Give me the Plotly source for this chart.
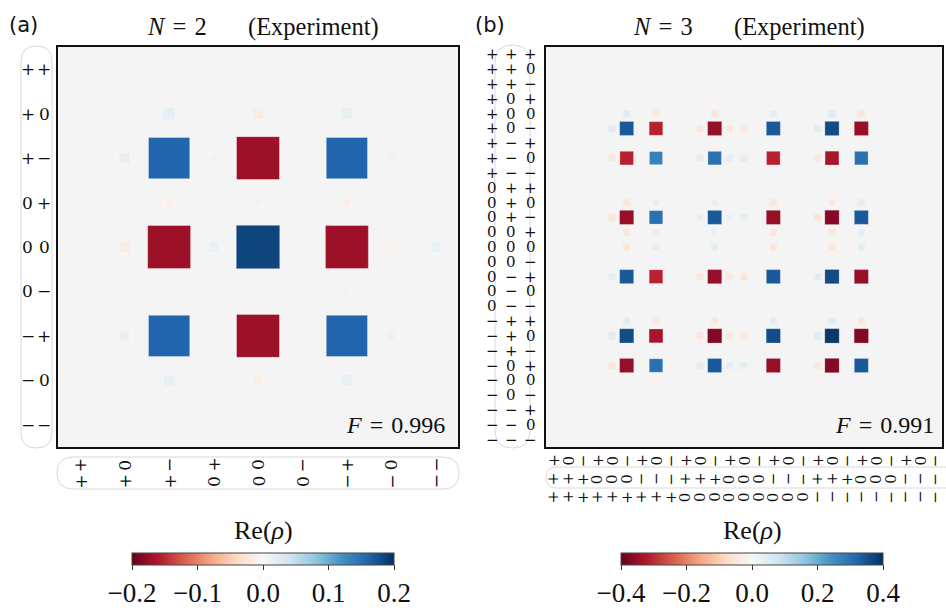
import plotly.graph_objects as go

W, H = 946, 612

# ---------------- data ----------------
labels2 = ["+ +", "+ 0", "+ −", "0 +", "0 0", "0 −", "− +", "− 0", "− −"]
labels3 = ["+ + +", "+ + 0", "+ + −", "+ 0 +", "+ 0 0", "+ 0 −", "+ − +", "+ − 0", "+ − −",
           "0 + +", "0 + 0", "0 + −", "0 0 +", "0 0 0", "0 0 −", "0 − +", "0 − 0", "0 − −",
           "− + +", "− + 0", "− + −", "− 0 +", "− 0 0", "− 0 −", "− − +", "− − 0", "− − −"]

# Re(rho) for N = 2 (rows: ++ ... --, columns: ++ ... --)
rho2 = [
    [0, 0, -.008, 0, .006, 0, -.008, 0, 0],
    [0, 0, .018, 0, -.016, 0, .016, 0, 0],
    [-.006, .016, .160, -.010, -.172, -.005, .160, .012, -.006],
    [0, 0, -.010, 0, .010, 0, -.010, 0, 0],
    [.004, -.016, -.172, .014, .185, .004, -.172, -.010, .014],
    [0, 0, -.008, 0, .006, 0, -.008, 0, 0],
    [-.006, .014, .160, -.010, -.172, -.005, .160, .012, -.006],
    [0, 0, .016, 0, -.012, 0, .016, 0, 0],
    [0, 0, -.008, 0, .008, 0, 0, 0, 0],
]

# Re(rho) for N = 3
rho3 = [
    [0, 0, 0, 0, 0, 0, 0, 0, 0, 0, 0, 0, 0, 0, 0, 0, 0, 0, 0, 0, 0, 0, 0, 0, 0, 0, 0],
    [0, 0, 0, 0, 0, 0, 0, 0, 0, 0, 0, 0, 0, 0, 0, 0, 0, 0, 0, 0, 0, 0, 0, 0, 0, 0, 0],
    [0, 0, 0, 0, 0, .008, 0, -.008, 0, 0, 0, -.008, 0, 0, 0, .008, 0, 0, 0, .008, 0, -.008, 0, 0, 0, 0, 0],
    [0, 0, 0, 0, 0, .018, 0, -.018, 0, 0, 0, -.018, 0, 0, 0, .018, 0, 0, 0, .018, 0, -.018, 0, 0, 0, 0, 0],
    [0, 0, 0, 0, 0, .045, 0, -.042, 0, 0, 0, -.045, 0, 0, 0, .040, 0, 0, 0, .048, 0, -.045, 0, 0, 0, 0, 0],
    [0, 0, .008, .018, .045, .34, .015, -.31, .015, -.015, -.042, -.35, -.042, -.045, -.008, .34, -.012, -.006, .045, .36, -.015, -.35, .015, .007, .005, .005, 0],
    [0, 0, 0, 0, 0, .015, 0, -.015, 0, 0, 0, -.015, 0, 0, 0, .015, 0, 0, 0, .015, 0, -.015, 0, 0, 0, 0, 0],
    [0, 0, -.008, -.018, -.042, -.31, -.015, .27, -.015, .015, .040, .30, .040, .042, .008, -.31, .012, .006, -.042, -.33, .015, .30, -.015, -.007, -.005, -.005, 0],
    [0, 0, 0, 0, 0, .015, 0, -.015, 0, 0, 0, -.015, 0, 0, 0, .015, 0, 0, 0, .015, 0, -.015, 0, 0, 0, 0, 0],
    [0, 0, 0, 0, 0, -.015, 0, .015, 0, 0, 0, .015, 0, 0, 0, -.015, 0, 0, 0, -.015, 0, .015, 0, 0, 0, 0, 0],
    [0, 0, 0, 0, 0, -.042, 0, .040, 0, 0, 0, .034, 0, 0, 0, -.042, 0, 0, 0, -.042, 0, .040, 0, 0, 0, 0, 0],
    [0, 0, -.008, -.018, -.045, -.35, -.015, .30, -.015, .015, .034, .34, .030, .042, .008, -.35, .012, .006, -.045, -.37, .015, .34, -.015, -.007, -.005, -.005, 0],
    [0, 0, 0, 0, 0, -.042, 0, .040, 0, 0, 0, .030, 0, 0, 0, -.042, 0, 0, 0, -.042, 0, .040, 0, 0, 0, 0, 0],
    [0, 0, 0, 0, 0, -.045, 0, .042, 0, 0, 0, .042, 0, 0, 0, -.045, 0, 0, 0, -.045, 0, .042, 0, 0, 0, 0, 0],
    [0, 0, 0, 0, 0, -.008, 0, .008, 0, 0, 0, .008, 0, 0, 0, -.008, 0, 0, 0, -.008, 0, .008, 0, 0, 0, 0, 0],
    [0, 0, .008, .018, .040, .34, .015, -.31, .015, -.015, -.042, -.35, -.042, -.045, -.008, .34, -.012, -.006, .042, .36, -.015, -.35, .015, .007, .005, .005, 0],
    [0, 0, 0, 0, 0, -.012, 0, .012, 0, 0, 0, .012, 0, 0, 0, -.012, 0, 0, 0, -.012, 0, .012, 0, 0, 0, 0, 0],
    [0, 0, 0, 0, 0, -.006, 0, .006, 0, 0, 0, .006, 0, 0, 0, -.006, 0, 0, 0, -.006, 0, .006, 0, 0, 0, 0, 0],
    [0, 0, 0, 0, 0, .045, 0, -.042, 0, 0, 0, -.045, 0, 0, 0, .042, 0, 0, 0, .050, 0, -.045, 0, 0, 0, 0, 0],
    [0, 0, .008, .018, .048, .36, .015, -.33, .015, -.015, -.042, -.37, -.042, -.045, -.008, .36, -.012, -.006, .050, .39, -.015, -.37, .015, .007, .005, .005, 0],
    [0, 0, 0, 0, 0, -.015, 0, .015, 0, 0, 0, .015, 0, 0, 0, -.015, 0, 0, 0, -.015, 0, .015, 0, 0, 0, 0, 0],
    [0, 0, -.008, -.018, -.045, -.35, -.015, .30, -.015, .015, .040, .34, .040, .042, .008, -.35, .012, .006, -.045, -.37, .015, .34, -.015, -.007, -.005, -.005, 0],
    [0, 0, 0, 0, 0, .015, 0, -.015, 0, 0, 0, -.015, 0, 0, 0, .015, 0, 0, 0, .015, 0, -.015, 0, 0, 0, 0, 0],
    [0, 0, 0, 0, 0, .007, 0, -.007, 0, 0, 0, -.007, 0, 0, 0, .007, 0, 0, 0, .007, 0, -.007, 0, 0, 0, 0, 0],
    [0, 0, 0, 0, 0, .005, 0, -.005, 0, 0, 0, -.005, 0, 0, 0, .005, 0, 0, 0, .005, 0, -.005, 0, 0, 0, 0, 0],
    [0, 0, 0, 0, 0, .005, 0, -.005, 0, 0, 0, -.005, 0, 0, 0, .005, 0, 0, 0, .005, 0, -.005, 0, 0, 0, 0, 0],
    [0, 0, 0, 0, 0, 0, 0, 0, 0, 0, 0, 0, 0, 0, 0, 0, 0, 0, 0, 0, 0, 0, 0, 0, 0, 0, 0],
]

fidelity2 = "0.996"
fidelity3 = "0.991"
cbar2_vals = [-0.2, -0.1, 0.0, 0.1, 0.2]
cbar2_text = ["−0.2", "−0.1", "0.0", "0.1", "0.2"]
cbar3_vals = [-0.4, -0.2, 0.0, 0.2, 0.4]
cbar3_text = ["−0.4", "−0.2", "0.0", "0.2", "0.4"]
vmax2, vmax3 = 0.2, 0.4

# ---------------- style ----------------
RDBU = [[0.0, "#67001f"], [0.1, "#b2182b"], [0.2, "#d6604d"], [0.3, "#f4a582"],
        [0.4, "#fddbc7"], [0.5, "#f7f7f7"], [0.6, "#d1e5f0"], [0.7, "#92c5de"],
        [0.8, "#4393c3"], [0.9, "#2166ac"], [1.0, "#053061"]]
SERIF = "Liberation Serif"
MATH = "DejaVu Serif"
SANS = "DejaVu Sans"
INK = "#111"
SP = "\u2004"   # medium math-like space

A_box = (58, 47, 458, 447)     # pixel box of panel (a)
B_box = (546, 47, 942, 447)    # pixel box of panel (b)


def px(x):
    return x / W


def py(y):
    return 1 - y / H


def points(mat, vmax, cell, expo, gain, cap):
    xs, ys, cs, ss = [], [], [], []
    for i, row in enumerate(mat):
        for j, v in enumerate(row):
            if v == 0:
                continue
            xs.append(j)
            ys.append(i)
            cs.append(v)
            ss.append(min(cap, gain * (abs(v) / vmax) ** expo) * cell)
    return xs, ys, cs, ss


fig = go.Figure()

xa, ya, ca, sa = points(rho2, vmax2, (A_box[2] - A_box[0]) / 9, 0.55, 1.05, 0.98)
fig.add_trace(go.Scatter(
    x=xa, y=ya, mode="markers", xaxis="x", yaxis="y", hoverinfo="skip",
    marker=dict(symbol="square", size=sa, color=ca, coloraxis="coloraxis", opacity=1,
                line=dict(width=1, color="rgba(255,255,255,0.35)")),
    showlegend=False))

xb, yb, cb, sb = points(rho3, vmax3, (B_box[2] - B_box[0]) / 27, 0.3, 1.0, 0.98)
fig.add_trace(go.Scatter(
    x=xb, y=yb, mode="markers", xaxis="x2", yaxis="y2", hoverinfo="skip",
    marker=dict(symbol="square", size=sb, color=cb, coloraxis="coloraxis2", opacity=1,
                line=dict(width=0.6, color="rgba(255,255,255,0.35)")),
    showlegend=False))


def axis_common(domain, n, reverse):
    d = dict(domain=domain, showticklabels=False, ticks="", showgrid=False, zeroline=False,
             showline=True, mirror=True, linecolor=INK, linewidth=2, fixedrange=True)
    d["range"] = [n - 0.5, -0.5] if reverse else [-0.5, n - 0.5]
    return d


def cbar(xc, vals, text):
    return dict(orientation="h", x=px(xc), xanchor="center", y=py(553), yanchor="top",
                len=262 / W, lenmode="fraction", thickness=12, xpad=0, ypad=0,
                outlinewidth=1, outlinecolor="#444", ticks="outside", ticklen=5, tickcolor="#333",
                tickmode="array", tickvals=vals, ticktext=text,
                tickfont=dict(family=SERIF, size=27, color=INK))


fig.update_layout(
    width=W, height=H, margin=dict(l=0, r=0, t=0, b=0),
    paper_bgcolor="white", plot_bgcolor="#f4f4f4",
    font=dict(family=SERIF, color=INK),
    xaxis=axis_common([px(A_box[0]), px(A_box[2])], 9, False),
    yaxis=axis_common([py(A_box[3]), py(A_box[1])], 9, True),
    xaxis2=dict(axis_common([px(B_box[0]), px(B_box[2])], 27, False), anchor="y2"),
    yaxis2=dict(axis_common([py(B_box[3]), py(B_box[1])], 27, True), anchor="x2"),
    coloraxis=dict(cmin=-vmax2, cmax=vmax2, colorscale=RDBU, colorbar=cbar(263, cbar2_vals, cbar2_text)),
    coloraxis2=dict(cmin=-vmax3, cmax=vmax3, colorscale=RDBU, colorbar=cbar(752, cbar3_vals, cbar3_text)),
)


def ann(x, y, text, size, family=SERIF, xanchor="center", xref="paper", yref="paper", angle=0):
    fig.add_annotation(x=px(x) if xref == "paper" else x, y=py(y) if yref == "paper" else y,
                       xref=xref, yref=yref, text=text, showarrow=False, textangle=angle,
                       xanchor=xanchor, yanchor="middle",
                       font=dict(family=family, size=size, color=INK))


# basis-state tick labels, one glyph per column/row of characters
def state_labels(labels, xref, yref, y_cols, x_rows, size):
    for k, lab in enumerate(labels):
        chars = lab.split(" ")
        for c, ch in enumerate(chars):
            ann(y_cols[c], k, ch, size, MATH, "center", "paper", yref)
            ann(k, x_rows[c], ch, size, MATH, "center", xref, "paper", -90)


state_labels(labels2, "x", "y", [27.5, 44], [481.5, 465], 17)
state_labels(labels3, "x2", "y2", [492, 511, 530.5], [497, 479, 460.5], 15)

ann(7, 25, "(a)", 21, SANS, "left")
ann(473, 25, "(b)", 21, SANS, "left")
ann(209, 27, "<i>N</i>" + SP + "=" + SP + "2", 24.5, SERIF, "right")
ann(246, 27, "(Experiment)", 24.5, SERIF, "left")
ann(695, 27, "<i>N</i>" + SP + "=" + SP + "3", 24.5, SERIF, "right")
ann(732, 27, "(Experiment)", 24.5, SERIF, "left")
ann(447, 425, "<i>F</i>" + SP + "=" + SP + fidelity2, 24, SERIF, "right")
ann(936, 425, "<i>F</i>" + SP + "=" + SP + fidelity3, 24, SERIF, "right")
ann(263, 530, "Re(<i>ρ</i>)", 26)
ann(752, 530, "Re(<i>ρ</i>)", 26)


def stadium(x0, y0, x1, y1):
    r = min(x1 - x0, y1 - y0) / 2
    pts = [("M", x0 + r, y0), ("L", x1 - r, y0), ("Q", x1, y0, x1, y0 + r),
           ("L", x1, y1 - r), ("Q", x1, y1, x1 - r, y1), ("L", x0 + r, y1),
           ("Q", x0, y1, x0, y1 - r), ("L", x0, y0 + r), ("Q", x0, y0, x0 + r, y0)]
    out = []
    for p in pts:
        cmd, vals = p[0], p[1:]
        coords = []
        for k in range(0, len(vals), 2):
            coords.append(f"{px(vals[k]):.5f},{py(vals[k + 1]):.5f}")
        out.append(cmd + " ".join(coords))
    return " ".join(out) + " Z"


for box in [(21, 46, 52, 448), (57, 457, 459, 489), (495, 45, 530, 448), (546, 467, 968, 488)]:
    fig.add_shape(type="path", path=stadium(*box), xref="paper", yref="paper",
                  line=dict(color="#d9d9d9", width=1), fillcolor="rgba(0,0,0,0)", layer="below")

fig.write_html("out.html", config={"displayModeBar": False},
               post_script="document.body.style.margin='0';document.body.style.overflow='hidden';")
